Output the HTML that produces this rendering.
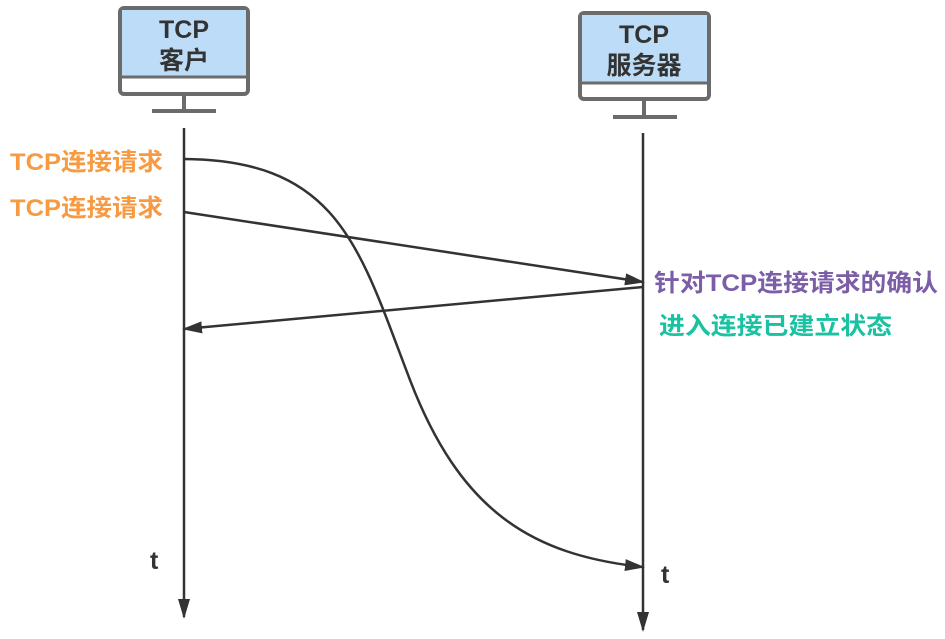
<!DOCTYPE html>
<html><head><meta charset="utf-8"><style>
html,body{margin:0;padding:0;background:#fff;}
svg{display:block}
text{font-family:"Liberation Sans","Noto Sans CJK SC",sans-serif;font-weight:bold}
</style></head><body>
<svg width="945" height="639" viewBox="0 0 945 639" xmlns="http://www.w3.org/2000/svg">
<defs>
<marker id="b" markerWidth="20" markerHeight="12" refX="18" refY="6" orient="auto" markerUnits="userSpaceOnUse" viewBox="0 0 20 12">
<path d="M0,0 L20,6 L0,12 z" fill="#333"/></marker>
</defs>
<rect x="120" y="8" width="128" height="86" rx="4" fill="#fff" stroke="#6b6b6b" stroke-width="4"/>
<rect x="122" y="10" width="124" height="66" fill="#bcdcf7"/>
<line x1="120" y1="77" x2="248" y2="77" stroke="#6b6b6b" stroke-width="3"/>
<line x1="184" y1="94" x2="184" y2="110" stroke="#6b6b6b" stroke-width="4"/>
<line x1="152" y1="111" x2="216" y2="111" stroke="#6b6b6b" stroke-width="4"/>
<text x="184" y="38" font-size="25" text-anchor="middle" fill="#333">TCP</text>
<text x="184" y="69" font-size="25" text-anchor="middle" fill="#333">客户</text>
<rect x="580" y="13" width="129" height="86" rx="4" fill="#fff" stroke="#6b6b6b" stroke-width="4"/>
<rect x="582" y="15" width="125" height="67" fill="#bcdcf7"/>
<line x1="580" y1="83" x2="709" y2="83" stroke="#6b6b6b" stroke-width="3"/>
<line x1="644" y1="99" x2="644" y2="115" stroke="#6b6b6b" stroke-width="4"/>
<line x1="613" y1="117" x2="677" y2="117" stroke="#6b6b6b" stroke-width="4"/>
<text x="644" y="43" font-size="25" text-anchor="middle" fill="#333">TCP</text>
<text x="644" y="74" font-size="25" text-anchor="middle" fill="#333">服务器</text>
<line x1="184" y1="128" x2="184" y2="617" stroke="#333" stroke-width="2.5" marker-end="url(#b)"/>
<line x1="643" y1="133" x2="643" y2="630" stroke="#333" stroke-width="2.5" marker-end="url(#b)"/>
<path d="M184,159 C340,160 360,250 410,380 C460,510 530,555 643,567" fill="none" stroke="#333" stroke-width="2.5" marker-end="url(#b)"/>
<line x1="184" y1="212" x2="643" y2="282" stroke="#333" stroke-width="2.5" marker-end="url(#b)"/>
<line x1="643" y1="287" x2="184" y2="329" stroke="#333" stroke-width="2.5" marker-end="url(#b)"/>
<text x="10" y="170" font-size="24" fill="#f79a41" textLength="153" lengthAdjust="spacingAndGlyphs">TCP连接请求</text>
<text x="10" y="216" font-size="24" fill="#f79a41" textLength="153" lengthAdjust="spacingAndGlyphs">TCP连接请求</text>
<text x="654" y="291" font-size="24" fill="#7b5ea7" textLength="284" lengthAdjust="spacingAndGlyphs">针对TCP连接请求的确认</text>
<text x="659" y="334" font-size="24" fill="#19c2a0" textLength="233" lengthAdjust="spacingAndGlyphs">进入连接已建立状态</text>
<text x="150" y="569" font-size="25" fill="#333">t</text>
<text x="661" y="583" font-size="25" fill="#333">t</text>
</svg>
</body></html>
